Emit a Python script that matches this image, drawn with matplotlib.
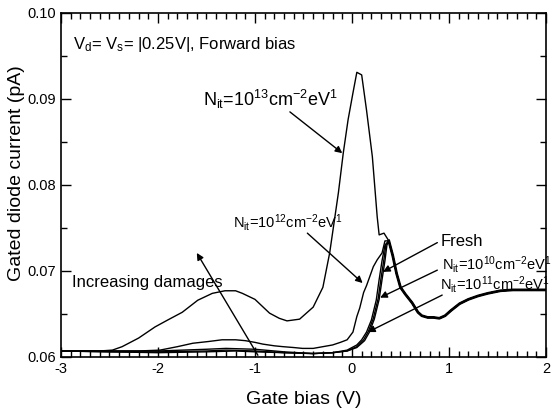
import numpy as np
import matplotlib
matplotlib.use("Agg")
import matplotlib.pyplot as plt
from matplotlib.ticker import MultipleLocator, FormatStrFormatter

plt.rcParams['font.family'] = ['Liberation Sans', 'DejaVu Sans']
plt.rcParams['mathtext.default'] = 'regular'
plt.rcParams['axes.unicode_minus'] = False

# shared part after the peak (all curves merge here)
tail_x = [0.38, 0.42, 0.46, 0.50, 0.55, 0.62, 0.68, 0.72, 0.78, 0.84, 0.90,
          0.96, 1.02, 1.11, 1.20, 1.30, 1.40, 1.53, 1.66, 1.80, 2.00]
tail_y = [0.0735, 0.0718, 0.0697, 0.0681, 0.0673, 0.0663, 0.0652, 0.0648,
          0.0646, 0.0646, 0.0645, 0.0648, 0.0654, 0.0662, 0.0667, 0.0671,
          0.0674, 0.0677, 0.0678, 0.0678, 0.0678]

n13_x = [-3.0, -2.8, -2.6, -2.47, -2.37, -2.2, -2.03, -1.9, -1.75, -1.59,
         -1.44, -1.31, -1.2, -1.13, -1.0, -0.85, -0.75, -0.67, -0.54, -0.40,
         -0.30, -0.23, -0.14, -0.09, -0.04, 0.01, 0.05, 0.10, 0.15, 0.21,
         0.26, 0.28, 0.33]
n13_y = [0.0607, 0.0607, 0.0607, 0.0608, 0.0612, 0.0622, 0.0635, 0.0643,
         0.0652, 0.0666, 0.0674, 0.0677, 0.0677, 0.0674, 0.0667, 0.0651,
         0.0645, 0.0642, 0.0644, 0.0658, 0.0681, 0.0721, 0.0791, 0.0837,
         0.0876, 0.0907, 0.0931, 0.0928, 0.0887, 0.0833, 0.0763, 0.0742,
         0.0744]

n12_x = [-3.0, -2.5, -2.2, -1.98, -1.8, -1.64, -1.48, -1.34, -1.2, -1.1,
         -1.0, -0.92, -0.8, -0.71, -0.6, -0.51, -0.4, -0.30, -0.2, -0.12,
         -0.05, 0.01, 0.05, 0.08, 0.12, 0.15, 0.22, 0.26, 0.31, 0.34]
n12_y = [0.0607, 0.0607, 0.0607, 0.0608, 0.0612, 0.0616, 0.0618, 0.0620,
         0.0620, 0.0619, 0.0617, 0.0615, 0.0613, 0.0612, 0.0611, 0.0610,
         0.0610, 0.0612, 0.0614, 0.0617, 0.0620, 0.0629, 0.0647, 0.0657,
         0.0675, 0.0683, 0.0705, 0.0713, 0.0721, 0.0735]

fresh_x = [-3.0, -2.5, -2.0, -1.5, -1.2, -1.0, -0.7, -0.4, -0.2, -0.05,
           0.05, 0.10, 0.15, 0.20, 0.25, 0.28, 0.31, 0.34]
fresh_y = [0.0607, 0.0606, 0.0605, 0.0606, 0.0607, 0.0606, 0.0605, 0.0604,
           0.0605, 0.0608, 0.0614, 0.0620, 0.0629, 0.0643, 0.0666, 0.0690,
           0.0712, 0.0730]

n10_x = [-3.0, -2.5, -2.0, -1.5, -1.3, -1.0, -0.7, -0.4, -0.2, -0.05,
         0.05, 0.12, 0.17, 0.22, 0.27, 0.30, 0.33, 0.35]
n10_y = [0.0607, 0.0606, 0.0606, 0.0607, 0.0608, 0.0607, 0.0605, 0.0604,
         0.0605, 0.0607, 0.0612, 0.0620, 0.0630, 0.0645, 0.0668, 0.0692,
         0.0714, 0.0731]

n11_x = [-3.0, -2.5, -2.0, -1.5, -1.3, -1.0, -0.7, -0.4, -0.2, -0.05,
         0.05, 0.13, 0.18, 0.23, 0.28, 0.31, 0.34, 0.36]
n11_y = [0.0607, 0.0607, 0.0607, 0.0609, 0.0610, 0.0609, 0.0606, 0.0604,
         0.0605, 0.0607, 0.0611, 0.0619, 0.0629, 0.0644, 0.0667, 0.0690,
         0.0712, 0.0730]

curves = [(n13_x, n13_y), (n12_x, n12_y), (fresh_x, fresh_y),
          (n10_x, n10_y), (n11_x, n11_y)]

fig = plt.figure(figsize=(5.57, 4.12), dpi=100)
ax = fig.add_axes([0.1095, 0.1335, 0.8707, 0.835])

for cx, cy in curves:
    ax.plot(list(cx) + tail_x, list(cy) + tail_y, color='black', lw=1.0)
# the merged right-hand part looks heavier in the original
ax.plot(tail_x, tail_y, color='black', lw=2.0)

ax.set_xlim(-3, 2)
ax.set_ylim(0.06, 0.10)
ax.xaxis.set_major_locator(MultipleLocator(1))
ax.xaxis.set_minor_locator(MultipleLocator(0.1))
ax.yaxis.set_major_locator(MultipleLocator(0.01))
ax.yaxis.set_minor_locator(MultipleLocator(0.005))
ax.yaxis.set_major_formatter(FormatStrFormatter('%.2f'))
ax.tick_params(which='both', direction='in', top=True, right=True,
               labelsize=10.5, width=1)
ax.tick_params(which='major', length=7)
ax.tick_params(which='minor', length=4)
for s in ax.spines.values():
    s.set_linewidth(1.2)

ax.set_xlabel('Gate bias (V)', fontsize=14, labelpad=11)
fig.text(17 / 557, 1 - 173 / 412, 'Gated diode current (pA)', fontsize=14,
         rotation=90, ha='center', va='center')

ax.text(-2.88, 0.0963, 'V$_d$= V$_s$= |0.25V|, Forward bias', fontsize=12,
        va='center')
ax.text(-1.54, 0.0899, 'N$_{it}$=10$^{13}$cm$^{-2}$eV$^{1}$', fontsize=13,
        va='center')
ax.text(-1.23, 0.0756, 'N$_{it}$=10$^{12}$cm$^{-2}$eV$^{1}$', fontsize=10.5,
        va='center')
ax.text(0.91, 0.0734, 'Fresh', fontsize=12, va='center')
ax.text(0.93, 0.0707, 'N$_{it}$=10$^{10}$cm$^{-2}$eV$^{1}$', fontsize=10.5,
        va='center')
ax.text(0.91, 0.0684, 'N$_{it}$=10$^{11}$cm$^{-2}$eV$^{1}$', fontsize=10.5,
        va='center')
ax.text(-2.89, 0.0687, 'Increasing damages', fontsize=12, va='center')

arrows = [((-0.64, 0.0885), (-0.10, 0.0837)),
          ((-0.46, 0.0744), (0.11, 0.0686)),
          ((0.88, 0.0733), (0.32, 0.0699)),
          ((0.88, 0.0701), (0.29, 0.0669)),
          ((0.93, 0.0672), (0.165, 0.0629)),
          ((-0.97, 0.0602), (-1.60, 0.0721))]
for start, end in arrows:
    ax.annotate('', xy=end, xytext=start,
                arrowprops=dict(arrowstyle='-|>', color='black', lw=1.0,
                                mutation_scale=10, shrinkA=0, shrinkB=0))

fig.savefig('out.png', dpi=100)
